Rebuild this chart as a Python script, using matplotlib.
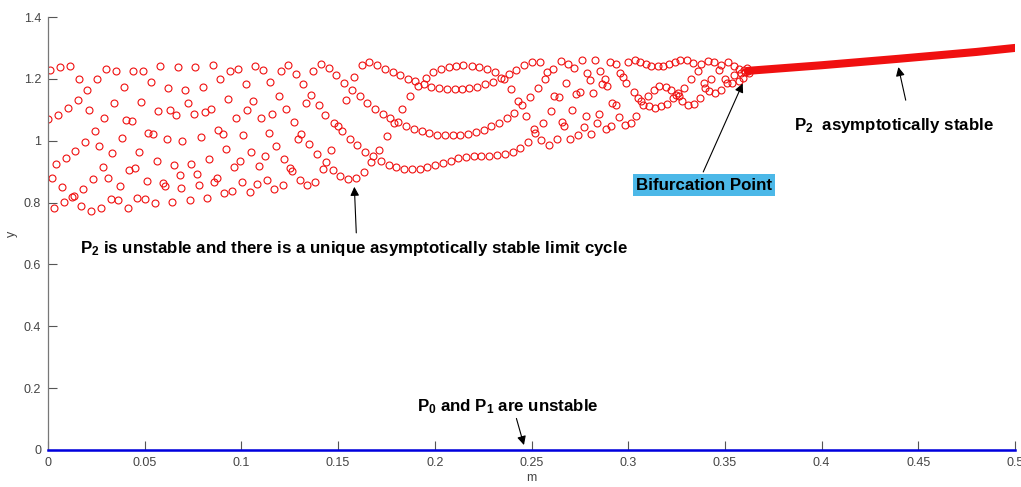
import matplotlib
matplotlib.use('Agg')
import matplotlib.pyplot as plt

plt.rcParams['font.family'] = ['Liberation Sans', 'DejaVu Sans']
plt.rcParams['mathtext.fontset'] = 'custom'
plt.rcParams['mathtext.bf'] = 'Liberation Sans:bold'
plt.rcParams['mathtext.rm'] = 'Liberation Sans'

# limit cycle samples in five strips of m
m_a = [0.001, 0.006, 0.0112, 0.0301, 0.035, 0.0441, 0.049, 0.0581, 0.0671, 0.0162,
       0.0252, 0.0531, 0.0393, 0.062, 0.0202, 0.0154, 0.0103, 0.0341, 0.0481, 0.0212,
       0.057, 0.0631, 0.0663, 0.0052, 0.0002, 0.0291, 0.0402, 0.0433, 0.0241, 0.0519,
       0.0543, 0.0381, 0.0614, 0.0693, 0.0191, 0.0264, 0.0141, 0.0472, 0.0331, 0.0092,
       0.0043, 0.0564, 0.0651, 0.0283, 0.042, 0.045, 0.0681, 0.0021, 0.0233, 0.0312,
       0.0512, 0.0593, 0.0605, 0.0072, 0.0372, 0.0183, 0.0686, 0.0123, 0.0134, 0.0083,
       0.0031, 0.0171, 0.0222, 0.0272, 0.0324, 0.0364, 0.0412, 0.0462, 0.0503, 0.0553,
       0.0641, 0.0708]
y_a = [1.229, 1.237, 1.240, 1.231, 1.227, 1.225, 1.225, 1.243, 1.237, 1.200,
       1.199, 1.191, 1.174, 1.171, 1.163, 1.132, 1.106, 1.122, 1.125, 1.098,
       1.095, 1.100, 1.082, 1.083, 1.070, 1.075, 1.068, 1.064, 1.033, 1.025,
       1.021, 1.008, 1.005, 0.999, 0.996, 0.982, 0.966, 0.962, 0.959, 0.943,
       0.924, 0.934, 0.922, 0.914, 0.904, 0.911, 0.890, 0.879, 0.877, 0.880,
       0.870, 0.862, 0.854, 0.851, 0.855, 0.844, 0.847, 0.817, 0.821, 0.801,
       0.783, 0.789, 0.773, 0.781, 0.811, 0.808, 0.783, 0.815, 0.813, 0.799,
       0.801, 1.165]

m_b = [0.0762, 0.0852, 0.0941, 0.0981, 0.107, 0.111, 0.1203, 0.1243, 0.1282, 0.1372,
       0.141, 0.0801, 0.0891, 0.1022, 0.1149, 0.132, 0.0722, 0.0931, 0.1062, 0.1193,
       0.136, 0.1332, 0.1401, 0.0753, 0.081, 0.0841, 0.0971, 0.1031, 0.1101, 0.116,
       0.1231, 0.127, 0.1432, 0.0881, 0.0903, 0.0791, 0.101, 0.1141, 0.131, 0.1291,
       0.0919, 0.118, 0.135, 0.1051, 0.1122, 0.1391, 0.0831, 0.122, 0.0741, 0.0991,
       0.0962, 0.1091, 0.1251, 0.1263, 0.1424, 0.0772, 0.0872, 0.086, 0.1002, 0.1082,
       0.1131, 0.1301, 0.1381, 0.1341, 0.0781, 0.1214, 0.091, 0.0951, 0.1043, 0.1169,
       0.0733, 0.0821]
y_b = [1.237, 1.245, 1.224, 1.231, 1.242, 1.230, 1.225, 1.244, 1.217, 1.226,
       1.248, 1.175, 1.199, 1.182, 1.189, 1.183, 1.122, 1.136, 1.127, 1.143,
       1.148, 1.122, 1.115, 1.085, 1.094, 1.104, 1.075, 1.098, 1.075, 1.085,
       1.102, 1.060, 1.084, 1.036, 1.023, 1.011, 1.017, 1.025, 1.022, 1.005,
       0.973, 0.982, 0.989, 0.964, 0.949, 0.956, 0.941, 0.941, 0.924, 0.933,
       0.915, 0.917, 0.912, 0.902, 0.907, 0.892, 0.881, 0.867, 0.865, 0.859,
       0.873, 0.873, 0.868, 0.857, 0.858, 0.856, 0.831, 0.839, 0.833, 0.843,
       0.809, 0.814]

m_c = [0.1451, 0.1622, 0.1661, 0.1701, 0.1742, 0.1782, 0.1822, 0.1861, 0.1899, 0.1915,
       0.1942, 0.198, 0.2022, 0.2063, 0.2103, 0.2139, 0.1953, 0.1992, 0.2032, 0.2072,
       0.2111, 0.2147, 0.1491, 0.1531, 0.1581, 0.1572, 0.1612, 0.1649, 0.1691, 0.1731,
       0.1768, 0.1791, 0.1811, 0.1851, 0.1891, 0.1932, 0.1972, 0.2013, 0.2053, 0.2093,
       0.2132, 0.1542, 0.187, 0.183, 0.1751, 0.148, 0.1501, 0.1522, 0.1562, 0.1599,
       0.1641, 0.1681, 0.1711, 0.1672, 0.1722, 0.1762, 0.1801, 0.1841, 0.1881, 0.1922,
       0.1961, 0.2001, 0.2041, 0.2082, 0.2122, 0.1462, 0.1436, 0.1472, 0.1511, 0.1551,
       0.1591, 0.1632]
y_c = [1.235, 1.246, 1.253, 1.244, 1.233, 1.221, 1.211, 1.200, 1.193, 1.176,
       1.182, 1.175, 1.171, 1.167, 1.167, 1.167, 1.203, 1.221, 1.231, 1.238,
       1.242, 1.244, 1.212, 1.188, 1.207, 1.165, 1.143, 1.122, 1.104, 1.087,
       1.073, 1.056, 1.060, 1.047, 1.038, 1.031, 1.024, 1.020, 1.017, 1.018,
       1.020, 1.133, 1.143, 1.103, 1.014, 1.057, 1.047, 1.030, 1.007, 0.985,
       0.965, 0.951, 0.970, 0.931, 0.936, 0.923, 0.915, 0.909, 0.908, 0.910,
       0.914, 0.922, 0.928, 0.936, 0.943, 0.969, 0.932, 0.904, 0.885, 0.876,
       0.881, 0.900]

m_d = [0.2191, 0.223, 0.2271, 0.2311, 0.2344, 0.2356, 0.2382, 0.2421, 0.2461, 0.2501,
       0.2542, 0.2651, 0.269, 0.2721, 0.2761, 0.2828, 0.2854, 0.2579, 0.2611, 0.257,
       0.2789, 0.2801, 0.268, 0.2865, 0.2178, 0.222, 0.2261, 0.2303, 0.2392, 0.2532,
       0.2492, 0.2618, 0.2644, 0.273, 0.2751, 0.282, 0.243, 0.2451, 0.2411, 0.2472,
       0.2601, 0.2709, 0.2782, 0.2849, 0.2372, 0.2332, 0.2292, 0.2253, 0.2211, 0.2172,
       0.2561, 0.2658, 0.2668, 0.277, 0.2839, 0.2511, 0.252, 0.2741, 0.2809, 0.2699,
       0.2482, 0.2551, 0.259, 0.2632, 0.2441, 0.2403, 0.2363, 0.2322, 0.228, 0.224,
       0.2201, 0.2161]
y_d = [1.243, 1.238, 1.232, 1.221, 1.204, 1.199, 1.216, 1.230, 1.245, 1.255,
       1.256, 1.257, 1.247, 1.234, 1.261, 1.262, 1.227, 1.222, 1.231, 1.200,
       1.220, 1.195, 1.188, 1.183, 1.171, 1.175, 1.182, 1.190, 1.167, 1.171,
       1.141, 1.144, 1.141, 1.151, 1.159, 1.154, 1.128, 1.114, 1.091, 1.081,
       1.096, 1.099, 1.079, 1.087, 1.074, 1.058, 1.046, 1.036, 1.027, 1.021,
       1.058, 1.059, 1.046, 1.044, 1.058, 1.038, 1.025, 1.020, 1.023, 1.007,
       0.997, 1.001, 0.986, 1.004, 0.978, 0.965, 0.957, 0.953, 0.952, 0.951,
       0.950, 0.948]

m_e = [0.2904, 0.2935, 0.2999, 0.3034, 0.3061, 0.3094, 0.3119, 0.3153, 0.3181, 0.3213,
       0.3244, 0.3269, 0.3302, 0.3333, 0.3378, 0.3411, 0.3444, 0.3478, 0.3518, 0.3547,
       0.3573, 0.3599, 0.362, 0.3361, 0.3468, 0.2959, 0.2973, 0.2989, 0.2882, 0.2892,
       0.3323, 0.343, 0.3392, 0.3499, 0.3511, 0.3537, 0.3546, 0.3585, 0.3573, 0.3594,
       0.3397, 0.3418, 0.3449, 0.348, 0.329, 0.3258, 0.3264, 0.3232, 0.3201, 0.3168,
       0.3139, 0.3108, 0.3078, 0.3065, 0.3052, 0.3028, 0.3102, 0.3133, 0.3161, 0.3194,
       0.322, 0.3247, 0.328, 0.3311, 0.334, 0.3371, 0.2918, 0.2935, 0.2952, 0.3042,
       0.3014, 0.2982, 0.2913, 0.2884, 0.3604, 0.3615, 0.3625]
y_e = [1.255, 1.249, 1.256, 1.262, 1.256, 1.248, 1.242, 1.242, 1.242, 1.249,
       1.256, 1.262, 1.262, 1.251, 1.247, 1.259, 1.254, 1.246, 1.253, 1.241,
       1.231, 1.228, 1.226, 1.226, 1.228, 1.220, 1.205, 1.186, 1.201, 1.176,
       1.200, 1.200, 1.185, 1.198, 1.187, 1.188, 1.212, 1.219, 1.193, 1.202,
       1.171, 1.160, 1.153, 1.164, 1.171, 1.154, 1.144, 1.137, 1.118, 1.111,
       1.106, 1.111, 1.115, 1.128, 1.138, 1.156, 1.146, 1.165, 1.176, 1.174,
       1.164, 1.149, 1.129, 1.117, 1.120, 1.138, 1.122, 1.117, 1.078, 1.080,
       1.056, 1.051, 1.047, 1.039, 1.222, 1.235, 1.219]

# stable branch of P2 after the bifurcation
stable_m = [0.362, 0.40, 0.44, 0.48, 0.50]
stable_y = [1.226, 1.244, 1.265, 1.287, 1.300]

# P0 / P1 branch
p01_m = [0.0, 0.5]
p01_y = [0.0, 0.0]

xticks = [0, 0.05, 0.1, 0.15, 0.2, 0.25, 0.3, 0.35, 0.4, 0.45, 0.5]
xticklabels = ['0', '0.05', '0.1', '0.15', '0.2', '0.25', '0.3', '0.35', '0.4', '0.45', '0.5']
yticks = [0, 0.2, 0.4, 0.6, 0.8, 1.0, 1.2, 1.4]
yticklabels = ['0', '0.2', '0.4', '0.6', '0.8', '1', '1.2', '1.4']

fig = plt.figure(figsize=(10.21, 4.87), dpi=100)
ax = fig.add_axes([48 / 1021, 37 / 487, 967 / 1021, 433 / 487])

red = '#f01010'
for mm, yy in [(m_a, y_a), (m_b, y_b), (m_c, y_c), (m_d, y_d), (m_e, y_e)]:
    ax.plot(mm, yy, 'o', mfc='none', mec=red, ms=5.0, mew=0.8)
ax.plot(stable_m, stable_y, '-', color=red, lw=5.8, solid_capstyle='round')
ax.plot(p01_m, p01_y, '-', color='#0000e0', lw=1.8, clip_on=False, zorder=5)

ax.set_xlim(0, 0.5)
ax.set_ylim(0, 1.4)
ax.set_xticks(xticks)
ax.set_xticklabels(xticklabels)
ax.set_yticks(yticks)
ax.set_yticklabels(yticklabels)
ax.tick_params(direction='in', length=6.5, width=0.8, colors='#555555', labelsize=9, pad=5)
ax.tick_params(axis='x', labelcolor='#444444')
ax.tick_params(axis='y', labelcolor='#444444')
for s in ['top', 'right']:
    ax.spines[s].set_visible(False)
for s in ['left', 'bottom']:
    ax.spines[s].set_color('#777777')
    ax.spines[s].set_linewidth(0.9)
ax.set_xlabel('m', fontsize=9, color='#444444', labelpad=2)
ax.set_ylabel('y', fontsize=9, color='#444444', labelpad=4)

arrow = dict(arrowstyle='-|>', color='k', lw=0.8, mutation_scale=13, shrinkA=0, shrinkB=0)
fs = 12.2

ax.annotate('', xy=(0.1584, 0.851), xytext=(0.1594, 0.702), arrowprops=arrow)
ax.text(0.0165, 0.652, r'$\mathbf{P_2}$ is unstable and there is a unique asymptotically stable limit cycle',
        fontsize=fs, fontweight='bold', ha='left', va='center')

ax.annotate('', xy=(0.3592, 1.185), xytext=(0.3388, 0.899), arrowprops=arrow)
ax.text(0.3392, 0.856, 'Bifurcation Point', fontsize=fs, fontweight='bold', ha='center', va='center',
        bbox=dict(boxstyle='square,pad=0.2', fc='#4cb8e8', ec='none'))

ax.annotate('', xy=(0.4397, 1.238), xytext=(0.4435, 1.131), arrowprops=arrow)
ax.text(0.3855, 1.048, r'$\mathbf{P_2}$  asymptotically stable', fontsize=fs, fontweight='bold',
        ha='left', va='center')

ax.annotate('', xy=(0.2461, 0.016), xytext=(0.2422, 0.102), arrowprops=arrow)
ax.text(0.1908, 0.140, r'$\mathbf{P_0}$ and $\mathbf{P_1}$ are unstable', fontsize=fs, fontweight='bold',
        ha='left', va='center')

fig.savefig('out.png', dpi=100)
